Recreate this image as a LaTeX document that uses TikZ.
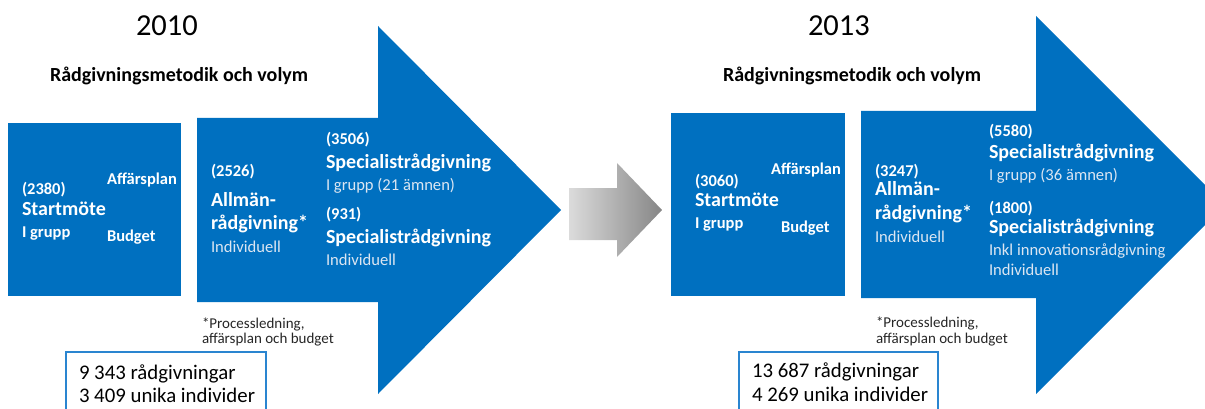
\documentclass[tikz,border=0pt]{standalone}
\usepackage{fontspec}
\setmainfont{Carlito}
\definecolor{blu}{HTML}{0070C0}
\definecolor{lite}{HTML}{DCE6F2}
\definecolor{brd}{HTML}{2A85D0}
\definecolor{fntxt}{HTML}{262626}
\begin{document}
\begin{tikzpicture}[x=1pt,y=-1pt,
  every node/.style={inner sep=0pt, outer sep=0pt, anchor=base west},
  wb/.style={text=white, font=\bfseries\fontsize{16.5}{18}\selectfont},
  wbig/.style={text=white, font=\bfseries\fontsize{20}{22}\selectfont},
  lt/.style={text=lite, font=\fontsize{16.6}{18}\selectfont},
  fn/.style={text=fntxt, font=\fontsize{15}{16}\selectfont},
  st/.style={text=black, font=\fontsize{20.8}{24}\selectfont},
  yr/.style={text=black, font=\fontsize{30.5}{32}\selectfont},
  hd/.style={text=black, font=\bfseries\fontsize{20}{22}\selectfont},
  statbox/.style={draw=brd, line width=1.5pt},
]
\useasboundingbox (0,0) rectangle (1205,409);
\clip (0,0) rectangle (1205,409);

% ---------- 2010 ----------
\node[yr] (y1) at (136,36) {2010};
\node[hd] (h1) at (50,82) {Rådgivningsmetodik och volym};

\fill[blu] (8,123) rectangle (181,296);
\fill[blu] (197,118) -- (378,118) -- (378,26) -- (561,210) -- (378,394) -- (378,302) -- (197,302) -- cycle;

\node[wb]   (a1) at (22,194) {(2380)};
\node[wbig] (a2) at (22,215) {Startmöte};
\node[wb]   (a3) at (22,237) {I grupp};
\node[wb]   (a4) at (107,185) {Affärsplan};
\node[wb]   (a5) at (107,241) {Budget};

\node[wb]   (b1) at (211,176) {(2526)};
\node[wbig] (b2) at (211,206) {Allmän-};
\node[wbig] (b3) at (211,229) {rådgivning*};
\node[lt]   (b4) at (211,252) {Individuell};

\node[wb]   (c1) at (326,145) {(3506)};
\node[wbig] (c2) at (326,168) {Specialistrådgivning};
\node[lt]   (c3) at (326,190) {I grupp (21 ämnen)};
\node[wb]   (c4) at (326,219) {(931)};
\node[wbig] (c5) at (326,243) {Specialistrådgivning};
\node[lt]   (c6) at (326,265) {Individuell};

\node[fn] (f1) at (202,328) {*Processledning,};
\node[fn] (f2) at (202,343) {affärsplan och budget};

\draw[statbox] (66,352) rectangle (266,420);
\node[st] (s1) at (79,379) {9 343 rådgivningar};
\node[st] (s2) at (79,402) {3 409 unika individer};

% ---------- transition arrow ----------
\shade[left color=gray!28, right color=gray!95] (569,188) -- (617,188) -- (617,163) -- (662,210) -- (617,257) -- (617,240) -- (569,240) -- cycle;

% ---------- 2013 ----------
\node[yr] (y2) at (808,36) {2013};
\node[hd] (h2) at (723,82) {Rådgivningsmetodik och volym};

\fill[blu] (671,113) rectangle (845,296);
\fill[blu] (861,111) -- (1036,111) -- (1036,16) -- (1225,205) -- (1036,394) -- (1036,298) -- (861,298) -- cycle;

\node[wb]   (d1) at (695,186) {(3060)};
\node[wbig] (d2) at (695,206) {Startmöte};
\node[wb]   (d3) at (695,228) {I grupp};
\node[wb]   (d4) at (771,175) {Affärsplan};
\node[wb]   (d5) at (781,232) {Budget};

\node[wb]   (e1) at (875,176) {(3247)};
\node[wbig] (e2) at (875,196) {Allmän-};
\node[wbig] (e3) at (875,219) {rådgivning*};
\node[lt]   (e4) at (875,242) {Individuell};

\node[wb]   (g1) at (989,137) {(5580)};
\node[wbig] (g2) at (989,158) {Specialistrådgivning};
\node[lt]   (g3) at (989,180) {I grupp (36 ämnen)};
\node[wb]   (g4) at (989,213) {(1800)};
\node[wbig] (g5) at (989,233) {Specialistrådgivning};
\node[lt]   (g6) at (989,255) {Inkl innovationsrådgivning};
\node[lt]   (g7) at (989,275) {Individuell};

\node[fn] (f3) at (876,327) {*Processledning,};
\node[fn] (f4) at (876,343) {affärsplan och budget};

\draw[statbox] (739,352) rectangle (938,420);
\node[st] (s3) at (752,377) {13 687 rådgivningar};
\node[st] (s4) at (752,401) {4 269 unika individer};
\end{tikzpicture}
\end{document}
